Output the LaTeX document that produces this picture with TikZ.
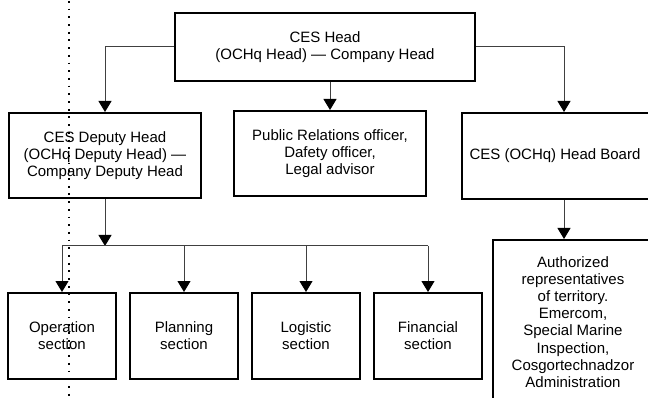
\documentclass[tikz,border=0pt]{standalone}
\usepackage{fontspec}
\setmainfont{Liberation Sans}
\usetikzlibrary{arrows.meta,calc}
\begin{document}
\begin{tikzpicture}[x=1pt,y=-1pt,
  box/.style={draw=black,line width=2pt,rectangle,inner sep=0pt,align=center,
    font=\fontsize{15}{17.2}\selectfont},
  txt/.style={inner sep=0pt,align=center,font=\fontsize{15}{17.2}\selectfont},
  conn/.style={draw=black!75,line width=1pt},
  arr/.style={conn,-{Triangle[width=13pt,length=11pt,color=black,fill=black]}},
  dots/.style={draw=black,line width=1.8pt,dash pattern=on 1.8pt off 5.9pt}]
\useasboundingbox (0,0) rectangle (648,398);
\clip (0,0) rectangle (648,398);
\node[box,minimum width=300,minimum height=68] (head) at (325,47)
  {CES Head\\(OCHq Head) — Company Head};
\node[box,minimum width=192,minimum height=85] (deputy) at (105,155.5)
  {CES Deputy Head\\(OCHq Deputy Head) —\\Company Deputy Head};
\node[box,minimum width=192,minimum height=85] (pr) at (330,153.5)
  {Public Relations officer,\\Dafety officer,\\Legal advisor};
\node[box,minimum width=204,minimum height=86] (board) at (564,156) {};
\node[txt] (boardtxt) at (555,156) {CES (OCHq) Head Board};
\node[box,minimum width=160,minimum height=164] (auth) at (573,322)
  {Authorized\\representatives\\of territory.\\Emercom,\\Special Marine\\Inspection,\\Cosgortechnadzor\\Administration};
\node[box,minimum width=108,minimum height=86] (op) at (62,336) {Operation\\section};
\node[box,minimum width=108,minimum height=86] (plan) at (184,336) {Planning\\section};
\node[box,minimum width=108,minimum height=86] (log) at (306,336) {Logistic\\section};
\node[box,minimum width=108,minimum height=86] (fin) at (428,336) {Financial\\section};
\coordinate (bus) at (105,246);
\coordinate (busL) at (62,246);
\coordinate (busR) at (428,246);
\draw[arr] (head.west) -| (deputy.north);
\draw[arr] (pr.north |- head.south) -- (pr.north);
\draw[arr] (head.east) -| (board.north);
\draw[arr] (board.south) -- (board.south |- auth.north);
\draw[arr] (deputy.south) -- (bus);
\draw[conn] (busL) -- (busR);
\draw[arr] (busL) -- (op.north);
\draw[arr] (plan.north |- bus) -- (plan.north);
\draw[arr] (log.north |- bus) -- (log.north);
\draw[arr] (busR) -- (fin.north);
\draw[dots] (69,1) -- (69,398);
\end{tikzpicture}
\end{document}
